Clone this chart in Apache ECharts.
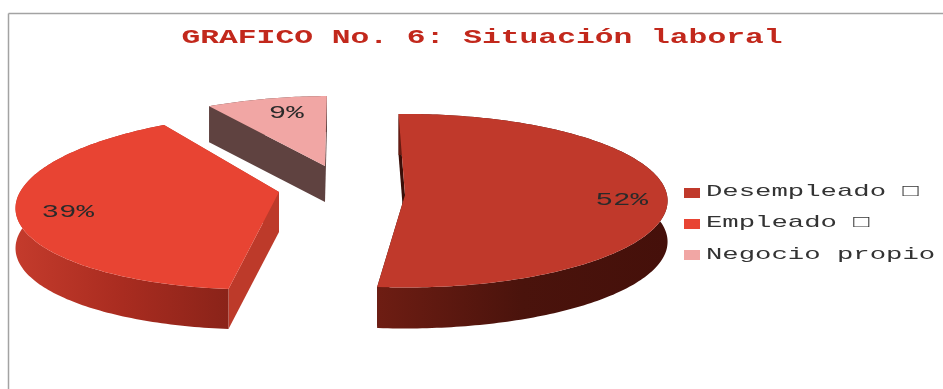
<!DOCTYPE html>
<html>
<head>
<meta charset="utf-8">
<style>html,body{margin:0;padding:0;background:#fff}#chart{width:943px;height:389px}</style>
<script src="https://cdn.jsdelivr.net/npm/echarts@6/dist/echarts.min.js"></script>
</head>
<body>
<div id="chart"></div>
<script>
// Labour situation: shares in percent
const categories = ['Desempleado', 'Empleado', 'Negocio propio'];
const shares = [52, 39, 9];
const chartTitle = 'GRAFICO No. 6: Situación laboral';
const legendTexts = ['Desempleado \u25A1', 'Empleado \u25A1', 'Negocio propio'];

const startAngle = -1.5;
const faceColors = ['#c0392b', '#e84433', '#f1a6a4'];
const monoFont = '"Liberation Mono", monospace';

// Exploded-slice placement and the tilt of the disc for each wedge:
// apex position, radii, perspective strength, shear, extrusion depth.
const wedgeGeometry = [
  { ax: 405, ay: 195, rx: 262, ry: 86.4, k: 0.066, shear: 0,   depth: 41, labelDx: -1, labelDy: 3,
    cutColor: '#3a0e08',
    wall: ['#45100a', '#4a130c', '#6e1d13'] },
  { ax: 279, ay: 192, rx: 259, ry: 87.6, k: 0.102, shear: -22, depth: 40, labelDx: 6,  labelDy: 2,
    cutColor: '#bd3a2a',
    wall: ['#8a2319', '#a92c20', '#c43b2c'] },
  { ax: 325, ay: 166, rx: 255, ry: 84,   k: 0.2,   shear: -7.4, depth: 36, labelDx: 11, labelDy: 5,
    cutColor: '#5f4240',
    wall: ['#5f4240', '#5f4240', '#5f4240'] }
];

function project(g, deg, f) {
  const t = deg * Math.PI / 180;
  const u = Math.sin(t) * f, v = -Math.cos(t) * f;
  const s = 1 / (1 - g.k * v);
  return [g.ax + u * s * g.rx + g.shear * v, g.ay + v * s * g.ry];
}

function renderWedge(params, api) {
  const i = params.dataIndex;
  const total = shares.reduce((a, b) => a + b, 0);
  const before = shares.slice(0, i).reduce((a, b) => a + b, 0);
  const a0 = startAngle + before / total * 360;
  const a1 = a0 + api.value(0) / total * 360;
  const g = wedgeGeometry[i];

  const arc = [];
  for (let a = a0; a < a1; a += 1) arc.push(project(g, a, 1));
  arc.push(project(g, a1, 1));
  const lower = p => [p[0], p[1] + g.depth];
  const apex = [g.ax, g.ay];
  const cut = pts => ({
    type: 'polygon',
    shape: { points: pts.concat(pts.slice().reverse().map(lower)) },
    style: { fill: g.cutColor }
  });
  const wallFill = {
    type: 'linear', x: 0, y: 0, x2: 1, y2: 0,
    colorStops: [
      { offset: 0, color: g.wall[2] },
      { offset: 0.5, color: g.wall[1] },
      { offset: 1, color: g.wall[0] }
    ]
  };
  const lp = project(g, (a0 + a1) / 2, 0.83);

  return {
    type: 'group',
    children: [
      cut([apex, arc[0]]),
      cut([apex, arc[arc.length - 1]]),
      {
        type: 'polygon',
        shape: { points: arc.concat(arc.slice().reverse().map(lower)) },
        style: { fill: wallFill }
      },
      {
        type: 'polygon',
        shape: { points: [apex].concat(arc) },
        style: { fill: faceColors[i] }
      },
      {
        type: 'text',
        x: lp[0] + g.labelDx,
        y: lp[1] + g.labelDy,
        scaleX: 1.62,
        style: {
          text: api.value(0) + '%',
          font: '18px ' + monoFont,
          fill: '#2a2a2a',
          textAlign: 'center',
          textVerticalAlign: 'middle'
        }
      }
    ]
  };
}

const frame = [
  { type: 'line', shape: { x1: 8.5, y1: 13.5, x2: 943, y2: 13.5 }, style: { stroke: '#a3a3a3', lineWidth: 1.5 } },
  { type: 'line', shape: { x1: 8.5, y1: 13.5, x2: 8.5, y2: 389 }, style: { stroke: '#a3a3a3', lineWidth: 1.5 } }
];

const titleText = {
  type: 'text', x: 482, y: 38, scaleX: 1.565,
  style: {
    text: chartTitle, font: 'bold 20px ' + monoFont, fill: '#c2281c',
    textAlign: 'center', textVerticalAlign: 'middle'
  }
};

const legendRows = categories.flatMap((name, i) => [
  { type: 'rect', shape: { x: 684, y: 188 + i * 31, width: 16, height: 10 }, style: { fill: faceColors[i] } },
  {
    type: 'text', x: 706, y: 191.5 + i * 31.3, scaleX: 1.605,
    style: {
      text: legendTexts[i], font: '17px ' + monoFont, fill: '#333',
      textAlign: 'left', textVerticalAlign: 'middle'
    }
  }
]);

const chart = echarts.init(document.getElementById('chart'), null, { renderer: 'canvas' });
chart.setOption({
  backgroundColor: '#ffffff',
  animation: false,
  graphic: { elements: frame.concat([titleText], legendRows) },
  series: [{
    type: 'custom',
    name: 'Situación laboral',
    coordinateSystem: 'none',
    renderItem: renderWedge,
    data: shares.map((v, i) => ({ name: categories[i], value: [v] }))
  }]
});
</script>
</body>
</html>
